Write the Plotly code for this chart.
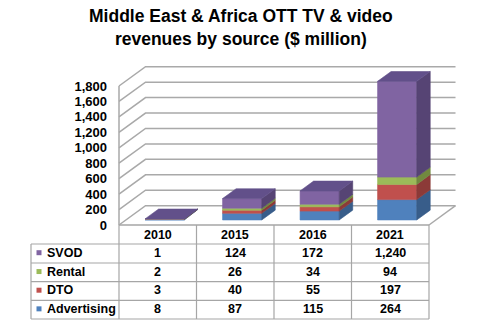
import plotly.graph_objects as go

# ---- data ($ million) ----
years = ["2010", "2015", "2016", "2021"]
svod = [1, 124, 172, 1240]
rental = [2, 26, 34, 94]
dto = [3, 40, 55, 197]
advertising = [8, 87, 115, 264]
y_ticks = [0, 200, 400, 600, 800, 1000, 1200, 1400, 1600, 1800]

# stacking order, bottom to top
stack = [
    ("Advertising", advertising, "#4F81BD", "#385D8A"),
    ("DTO", dto, "#C0504D", "#8C3A38"),
    ("Rental", rental, "#9BBB59", "#71893F"),
    ("SVOD", svod, "#8064A2", "#564474"),
]
SVOD_TOP = "#62508A"
# table row order, top to bottom
table_rows = [("SVOD", svod, "#8064A2"), ("Rental", rental, "#9BBB59"),
              ("DTO", dto, "#C0504D"), ("Advertising", advertising, "#4F81BD")]

# ---- canvas geometry ----
W, H = 482, 321
X0_PX = 119.0        # left front corner of the floor
CAT_PX = 77.5        # pixels per category
ZERO_PX = 225.0      # front baseline
VAL_PX = 0.07722     # pixels per $ million
DX = 0.342           # depth shift, category units
DY = 250.0           # depth shift, value units
BAR_HALF = 0.2525
D0, D1 = 0.26, 0.77  # bar depth span (fraction of floor depth)
N = len(years)

x_range = [(0 - X0_PX) / CAT_PX, (W - X0_PX) / CAT_PX]
y_range = [(ZERO_PX - H) / VAL_PX, ZERO_PX / VAL_PX]


def py(p):
    """pixel row -> paper y"""
    return 1 - p / H


def px_to_x(p):
    return (p - X0_PX) / CAT_PX


GRID = "#A9A9A9"
FONT = "Liberation Sans, Arial, sans-serif"

fig = go.Figure()


def poly(xs, ys, color):
    fig.add_trace(go.Scatter(
        x=xs + [xs[0]], y=ys + [ys[0]], mode="lines", fill="toself",
        fillcolor=color, line=dict(color=color, width=0.6),
        hoverinfo="skip", showlegend=False))


def line(xs, ys, color=GRID, width=1.5):
    fig.add_trace(go.Scatter(
        x=xs, y=ys, mode="lines", line=dict(color=color, width=width),
        hoverinfo="skip", showlegend=False))


# walls: gridlines on left wall and back wall
for v in y_ticks:
    line([0, DX, N + DX], [v, v + DY, v + DY])
line([0, 0], [0, y_ticks[-1]])
# floor outline
line([N, N + DX], [0, DY])

# 3-D stacked bars
for i in range(N):
    c = i + 0.5
    xl0, xr0 = c - BAR_HALF + D0 * DX, c + BAR_HALF + D0 * DX
    xl1, xr1 = c - BAR_HALF + D1 * DX, c + BAR_HALF + D1 * DX
    base = 0.0
    for name, vals, front, side in stack:
        y0, y1 = base, base + vals[i]
        poly([xl0, xr0, xr0, xl0],
             [y0 + D0 * DY, y0 + D0 * DY, y1 + D0 * DY, y1 + D0 * DY], front)
        poly([xr0, xr1, xr1, xr0],
             [y0 + D0 * DY, y0 + D1 * DY, y1 + D1 * DY, y1 + D0 * DY], side)
        base = y1
    poly([xl0, xr0, xr1, xl1],
         [base + D0 * DY, base + D0 * DY, base + D1 * DY, base + D1 * DY], SVOD_TOP)

# ---- data table ----
TBL = "#A6A6A6"
row_edges = [225, 244, 263, 281.7, 300.3, 319]
left_x = px_to_x(31)
shapes = []
# header top = floor front edge
shapes.append(dict(type="line", xref="x", yref="paper", x0=0, x1=N,
                   y0=py(row_edges[0]), y1=py(row_edges[0]),
                   line=dict(color=TBL, width=1.3)))
for r in row_edges[1:]:
    shapes.append(dict(type="line", xref="x", yref="paper", x0=left_x, x1=N,
                       y0=py(r), y1=py(r), line=dict(color=TBL, width=1.2)))
for k in range(N + 1):
    shapes.append(dict(type="line", xref="x", yref="paper", x0=k, x1=k,
                       y0=py(row_edges[0]), y1=py(row_edges[-1]),
                       line=dict(color=TBL, width=1.2)))
shapes.append(dict(type="line", xref="x", yref="paper", x0=left_x, x1=left_x,
                   y0=py(row_edges[1]), y1=py(row_edges[-1]),
                   line=dict(color=TBL, width=1.2)))

annotations = []
tfont = dict(family=FONT, size=12.5, color="#000000", weight="bold")
for k, yr in enumerate(years):
    annotations.append(dict(x=k + 0.5, y=py(235), xref="x", yref="paper",
                            text=yr, showarrow=False, font=tfont,
                            xanchor="center", yanchor="middle"))
for j, (name, vals, color) in enumerate(table_rows):
    yc = (row_edges[j + 1] + row_edges[j + 2]) / 2 - 0.8
    shapes.append(dict(type="rect", xref="x", yref="paper",
                       x0=px_to_x(36.5), x1=px_to_x(41.5),
                       y0=py(yc + 2.5), y1=py(yc - 2.5),
                       fillcolor=color, line=dict(width=0)))
    annotations.append(dict(x=px_to_x(44.5), y=py(yc), xref="x", yref="paper",
                            text=name, showarrow=False, font=tfont,
                            xanchor="left", yanchor="middle"))
    for k, v in enumerate(vals):
        annotations.append(dict(x=k + 0.5, y=py(yc), xref="x", yref="paper",
                                text=f"{v:,}", showarrow=False, font=tfont,
                                xanchor="center", yanchor="middle"))

# title
annotations.append(dict(
    x=0.5, y=py(27.5), xref="paper", yref="paper",
    text="Middle East & Africa OTT TV & video<br>revenues by source ($ million)",
    showarrow=False, xanchor="center", yanchor="middle",
    font=dict(family=FONT, size=17.5, color="#000000", weight="bold")))

fig.update_layout(
    width=W, height=H,
    margin=dict(l=0, r=0, t=0, b=0),
    paper_bgcolor="white", plot_bgcolor="white",
    showlegend=False,
    xaxis=dict(range=x_range, visible=False, fixedrange=True),
    yaxis=dict(range=y_range, anchor="free", position=X0_PX / W,
               tickvals=y_ticks, ticktext=[f"{v:,}" for v in y_ticks],
               showgrid=False, zeroline=False, showline=False, ticks="",
               ticklabelstandoff=12, fixedrange=True,
               tickfont=dict(family=FONT, size=13, color="#000000", weight="bold")),
    shapes=shapes,
    annotations=annotations,
)

fig.write_html("out.html")
